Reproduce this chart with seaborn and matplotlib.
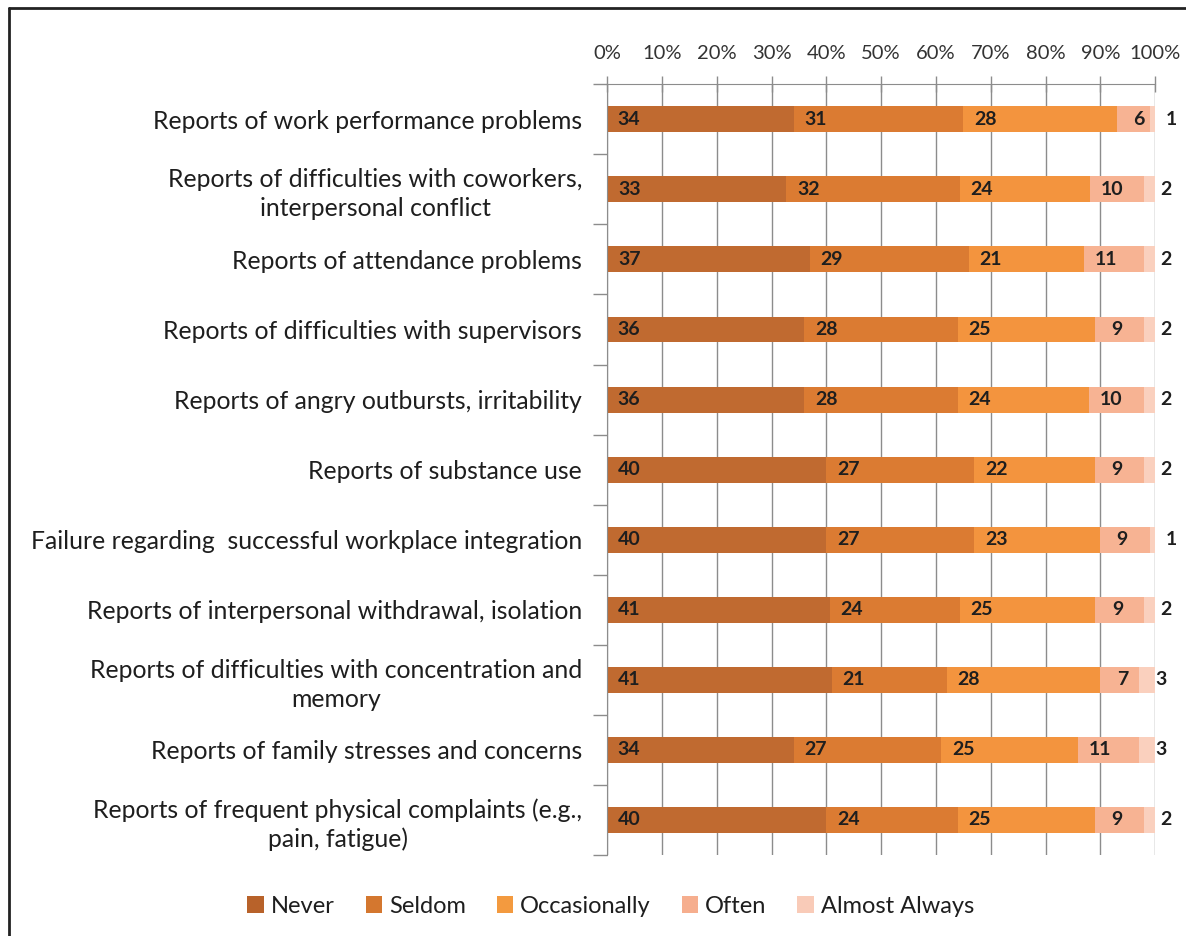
import numpy as np
import pandas as pd
import seaborn as sns
import matplotlib.pyplot as plt
from matplotlib.lines import Line2D
from matplotlib.patches import Patch

### DATA
items = [
    "Reports of work performance problems",
    "Reports of difficulties with coworkers,\ninterpersonal conflict",
    "Reports of attendance problems",
    "Reports of difficulties with supervisors",
    "Reports of angry outbursts, irritability",
    "Reports of substance use",
    "Failure regarding  successful workplace integration",
    "Reports of interpersonal withdrawal, isolation",
    "Reports of difficulties with concentration and\nmemory",
    "Reports of family stresses and concerns",
    "Reports of frequent physical complaints (e.g.,\npain, fatigue)",
]
levels = ["Never", "Seldom", "Occasionally", "Often", "Almost Always"]
never = [34, 33, 37, 36, 36, 40, 40, 41, 41, 34, 40]
seldom = [31, 32, 29, 28, 28, 27, 27, 24, 21, 27, 24]
occasionally = [28, 24, 21, 25, 24, 22, 23, 25, 28, 25, 25]
often = [6, 10, 11, 9, 10, 9, 9, 9, 7, 11, 9]
almost_always = [1, 2, 2, 2, 2, 2, 1, 2, 3, 3, 2]
colors = ["#C06A30", "#DB7B32", "#F3943E", "#F7B393", "#FAD0BE"]
legend_colors = ["#B8622A", "#D4772F", "#F39A3F", "#F6AE8E", "#F9CBB8"]

sns.set_style("white")
plt.rcParams["font.family"] = ["Lato", "DejaVu Sans"]

df = pd.DataFrame({"item": items, "Never": never, "Seldom": seldom,
                   "Occasionally": occasionally, "Often": often,
                   "Almost Always": almost_always})
vals = df[levels].to_numpy(dtype=float)
pct = vals / vals.sum(axis=1, keepdims=True) * 100
cum = np.cumsum(pct, axis=1)

fig = plt.figure(figsize=(11.86, 9.36), dpi=100)
ax = fig.add_axes([0.512, 0.0865, 0.462, 0.8235])

# stacked bars: draw the cumulative totals from the widest down
for i in range(len(levels) - 1, -1, -1):
    sns.barplot(x=cum[:, i], y=df["item"], color=colors[i], width=0.37,
                orient="h", ax=ax, saturation=1, linewidth=0)

# value labels
for r in range(len(items)):
    starts = np.concatenate([[0], cum[r, :-1]])
    for i in range(len(levels)):
        ax.text(starts[i] + 4, r, str(int(vals[r, i])), ha="center", va="center",
                fontsize=14, fontweight="bold", color="#1E1E1E")

ax.set_xlim(0, 100)
ax.set_ylim(len(items) - 0.5, -0.5)
ax.set_xticks(np.arange(0, 101, 10))
ax.set_xticklabels([f"{t}%" for t in range(0, 101, 10)])
ax.xaxis.tick_top()
ax.tick_params(axis="x", top=True, bottom=False, direction="inout", length=12,
               pad=10, labelsize=14.5, width=1)
ax.tick_params(axis="x", colors="#8C8C8C", labelcolor="#333333")
ax.grid(axis="x", color="#8C8C8C", linewidth=1)
ax.set_axisbelow(True)

ax.set_yticks(np.arange(-0.5, len(items), 1.0), minor=True)
ax.tick_params(axis="y", which="minor", left=True, length=10, color="#8C8C8C", width=1)
ax.tick_params(axis="y", which="major", length=0, pad=18, labelsize=17.8, labelcolor="#1E1E1E")
for lab in ax.get_yticklabels():
    lab.set_multialignment("center")
    lab.set_linespacing(1.3)

ax.set_xlabel("")
ax.set_ylabel("")
for s in ["right", "bottom"]:
    ax.spines[s].set_visible(False)
ax.spines["left"].set_color("#8C8C8C")
ax.spines["top"].set_color("#8C8C8C")

handles = [Patch(facecolor=c, edgecolor="none") for c in legend_colors]
fig.legend(handles, levels, loc="center", bbox_to_anchor=(0.515, 0.032), ncol=5,
           frameon=False, fontsize=17, handlelength=0.7, handleheight=0.7,
           handletextpad=0.3, columnspacing=1.3, labelcolor="#1E1E1E")

# outer chart frame (left and top edges visible)
fig.add_artist(Line2D([0.008, 0.008], [0, 0.991], transform=fig.transFigure, color="#222222", lw=2))
fig.add_artist(Line2D([0.008, 1], [0.991, 0.991], transform=fig.transFigure, color="#222222", lw=2))

fig.savefig("out.png", dpi=100, facecolor="white")
